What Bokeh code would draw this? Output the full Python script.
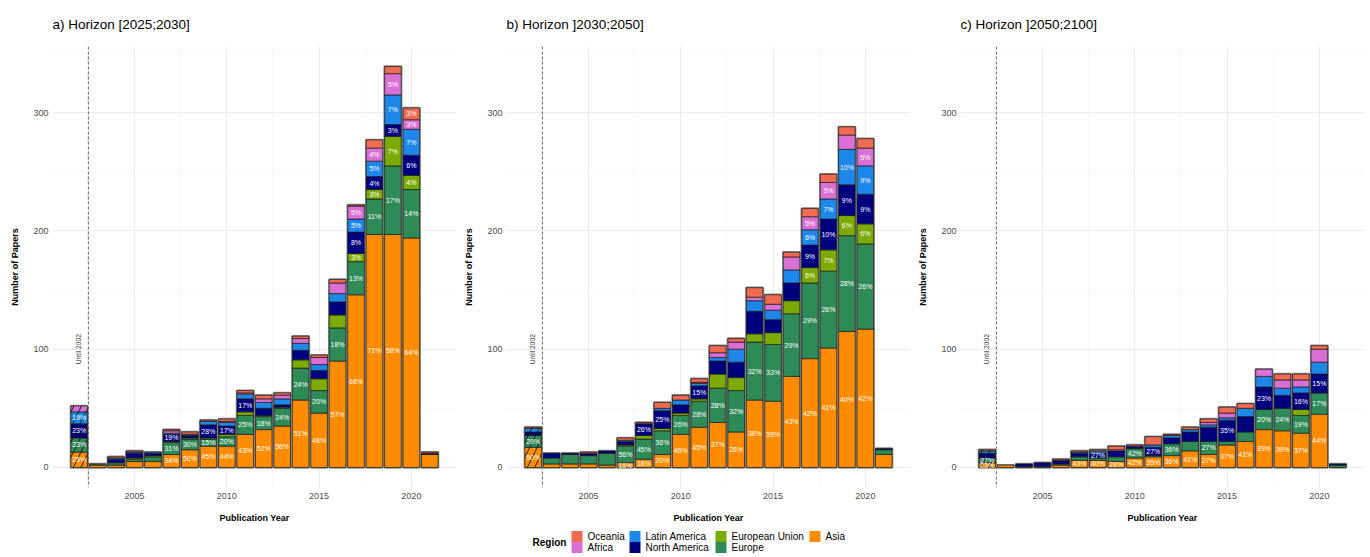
import math
from bokeh.plotting import figure
from bokeh.models import Range1d, FixedTicker, Span, ColumnDataSource, Spacer
from bokeh.layouts import row, column
from bokeh.embed import file_html
from bokeh.resources import INLINE
from bokeh.core.properties import value

# ---------------- data ----------------
YEARS = list(range(2002, 2022))
REGIONS = ["Asia", "Europe", "European Union", "North America",
           "Latin America", "Africa", "Oceania"]
COLORS = {"Asia": "#FF8C00", "Europe": "#2E8B57", "European Union": "#7BAA00",
          "North America": "#00007F", "Latin America": "#1E88EA",
          "Africa": "#DA70D6", "Oceania": "#EE6A50"}
TITLES = ["a) Horizon [2025;2030]", "b) Horizon ]2030;2050]", "c) Horizon ]2050;2100]"]

PANEL_A = {
    "Asia":           [13, 2, 2, 5, 5, 11, 15, 18, 18, 28, 32, 35, 57, 46, 90, 146, 197, 197, 194, 11],
    "Europe":         [12, 1, 2, 2, 4, 10, 9, 6, 8, 16, 11, 15, 27, 19, 28, 28, 30, 58, 41, 0],
    "European Union": [0, 0, 0, 1, 1, 1, 1, 1, 2, 3, 1, 1, 7, 10, 11, 7, 8, 25, 12, 0],
    "North America":  [12, 0, 3, 4, 2, 6, 2, 11, 7, 11, 6, 2, 8, 7, 11, 18, 11, 10, 17, 1],
    "Latin America":  [10, 0, 1, 1, 1, 1, 1, 3, 3, 4, 5, 5, 6, 5, 7, 11, 13, 25, 22, 0],
    "Africa":         [5, 0, 0, 0, 0, 2, 0, 0, 1, 1, 3, 3, 4, 6, 9, 11, 11, 18, 8, 0],
    "Oceania":        [0, 0, 1, 1, 0, 1, 2, 1, 2, 2, 3, 2, 2, 2, 3, 1, 7, 6, 10, 1],
}
PANEL_B = {
    "Asia":           [17, 3, 3, 3, 2, 4, 7, 11, 28, 34, 38, 30, 57, 56, 77, 92, 101, 115, 117, 11],
    "Europe":         [10, 5, 8, 7, 10, 14, 17, 20, 16, 22, 29, 35, 49, 48, 53, 64, 65, 81, 72, 4],
    "European Union": [0, 0, 0, 0, 0, 1, 3, 2, 2, 2, 12, 11, 7, 10, 11, 13, 18, 17, 17, 0],
    "North America":  [3, 4, 1, 2, 2, 3, 10, 15, 7, 11, 11, 13, 19, 11, 15, 19, 26, 26, 25, 1],
    "Latin America":  [3, 0, 0, 0, 0, 1, 0, 2, 4, 2, 3, 11, 9, 8, 11, 13, 17, 30, 24, 0],
    "Africa":         [0, 0, 0, 0, 0, 0, 0, 0, 0, 1, 4, 6, 3, 5, 11, 11, 14, 12, 15, 0],
    "Oceania":        [1, 0, 0, 1, 0, 2, 1, 5, 4, 3, 6, 3, 8, 8, 4, 7, 7, 7, 8, 0],
}
PANEL_C = {
    "Asia":           [4, 2, 0, 0, 2, 6, 6, 5, 8, 9, 10, 14, 11, 19, 22, 32, 31, 29, 45, 0],
    "Europe":         [4, 0, 1, 1, 1, 3, 2, 4, 8, 1, 10, 8, 11, 3, 8, 17, 19, 15, 18, 2],
    "European Union": [0, 0, 0, 0, 0, 0, 0, 0, 0, 0, 0, 0, 0, 0, 0, 0, 0, 5, 0, 0],
    "North America":  [4, 0, 2, 3, 3, 3, 4, 5, 2, 7, 5, 8, 12, 18, 13, 19, 11, 14, 16, 1],
    "Latin America":  [2, 0, 0, 0, 0, 1, 2, 0, 0, 2, 2, 2, 2, 2, 7, 9, 6, 5, 10, 0],
    "Africa":         [0, 0, 0, 0, 0, 0, 0, 1, 0, 0, 0, 0, 2, 4, 0, 6, 7, 6, 11, 0],
    "Oceania":        [1, 0, 0, 0, 1, 1, 1, 3, 1, 7, 1, 2, 3, 5, 4, 0, 5, 5, 3, 0],
}

LABELS_A = [
    (2002, "Asia", "25%"), (2002, "Europe", "23%"), (2002, "North America", "23%"), (2002, "Latin America", "19%"),
    (2007, "Asia", "34%"), (2007, "Europe", "31%"), (2007, "North America", "19%"),
    (2008, "Asia", "50%"), (2008, "Europe", "30%"),
    (2009, "Asia", "45%"), (2009, "Europe", "15%"), (2009, "North America", "28%"),
    (2010, "Asia", "44%"), (2010, "Europe", "20%"), (2010, "North America", "17%"),
    (2011, "Asia", "43%"), (2011, "Europe", "25%"), (2011, "North America", "17%"),
    (2012, "Asia", "52%"), (2012, "Europe", "18%"),
    (2013, "Asia", "56%"), (2013, "Europe", "24%"),
    (2014, "Asia", "51%"), (2014, "Europe", "24%"),
    (2015, "Asia", "48%"), (2015, "Europe", "20%"),
    (2016, "Asia", "57%"), (2016, "Europe", "18%"),
    (2017, "Asia", "66%"), (2017, "Europe", "13%"), (2017, "European Union", "3%"),
    (2017, "North America", "8%"), (2017, "Latin America", "5%"), (2017, "Africa", "5%"),
    (2018, "Asia", "71%"), (2018, "Europe", "11%"), (2018, "European Union", "3%"),
    (2018, "North America", "4%"), (2018, "Latin America", "5%"), (2018, "Africa", "4%"),
    (2019, "Asia", "58%"), (2019, "Europe", "17%"), (2019, "European Union", "7%"),
    (2019, "North America", "3%"), (2019, "Latin America", "7%"), (2019, "Africa", "5%"),
    (2020, "Asia", "64%"), (2020, "Europe", "14%"), (2020, "European Union", "4%"),
    (2020, "North America", "6%"), (2020, "Latin America", "7%"), (2020, "Africa", "3%"), (2020, "Oceania", "3%"),
]
LABELS_B = [
    (2002, "Asia", "50%"), (2002, "Europe", "29%"),
    (2007, "Asia", "16%"), (2007, "Europe", "56%"),
    (2008, "Asia", "18%"), (2008, "Europe", "45%"), (2008, "North America", "26%"),
    (2009, "Asia", "20%"), (2009, "Europe", "36%"), (2009, "North America", "25%"),
    (2010, "Asia", "46%"), (2010, "Europe", "26%"),
    (2011, "Asia", "45%"), (2011, "Europe", "28%"), (2011, "North America", "15%"),
    (2012, "Asia", "37%"), (2012, "Europe", "28%"),
    (2013, "Asia", "28%"), (2013, "Europe", "32%"),
    (2014, "Asia", "38%"), (2014, "Europe", "32%"),
    (2015, "Asia", "39%"), (2015, "Europe", "33%"),
    (2016, "Asia", "43%"), (2016, "Europe", "29%"),
    (2017, "Asia", "42%"), (2017, "Europe", "29%"), (2017, "European Union", "6%"),
    (2017, "North America", "9%"), (2017, "Latin America", "6%"), (2017, "Africa", "5%"),
    (2018, "Asia", "41%"), (2018, "Europe", "26%"), (2018, "European Union", "7%"),
    (2018, "North America", "10%"), (2018, "Latin America", "7%"), (2018, "Africa", "5%"),
    (2019, "Asia", "40%"), (2019, "Europe", "28%"), (2019, "European Union", "6%"),
    (2019, "North America", "9%"), (2019, "Latin America", "10%"),
    (2020, "Asia", "42%"), (2020, "Europe", "26%"), (2020, "European Union", "6%"),
    (2020, "North America", "9%"), (2020, "Latin America", "9%"), (2020, "Africa", "5%"),
]
LABELS_C = [
    (2002, "Asia", "23%"), (2002, "Europe", "27%"),
    (2007, "Asia", "43%"),
    (2008, "Asia", "40%"), (2008, "North America", "27%"),
    (2009, "Asia", "28%"),
    (2010, "Asia", "42%"), (2010, "Europe", "42%"),
    (2011, "Asia", "35%"), (2011, "North America", "27%"),
    (2012, "Asia", "36%"), (2012, "Europe", "36%"),
    (2013, "Asia", "41%"),
    (2014, "Asia", "27%"), (2014, "Europe", "27%"),
    (2015, "Asia", "37%"), (2015, "North America", "35%"),
    (2016, "Asia", "41%"),
    (2017, "Asia", "39%"), (2017, "Europe", "20%"), (2017, "North America", "23%"),
    (2018, "Asia", "39%"), (2018, "Europe", "24%"),
    (2019, "Asia", "37%"), (2019, "Europe", "19%"), (2019, "North America", "16%"),
    (2020, "Asia", "44%"), (2020, "Europe", "17%"), (2020, "North America", "15%"),
]

Y_TICKS = [0, 100, 200, 300]
Y_MINOR = [50, 150, 250, 350]
X_TICKS = [2005, 2010, 2015, 2020]
X_MINOR = [2002.5, 2007.5, 2012.5, 2017.5]
CUTOFF = 2002.5

# ---------------- style ----------------
FONT = "Liberation Sans"
BAR_W = 0.9
FRAME_W = 404
FRAME_H = 441
BORDER_L = 50

ymax = max(sum(d[r][i] for r in REGIONS) for d in (PANEL_A, PANEL_B, PANEL_C) for i in range(len(YEARS)))
pad = 0.05 * ymax
Y_RANGE = Range1d(-pad, ymax + pad)
xspan = (YEARS[-1] + BAR_W / 2) - (YEARS[0] - BAR_W / 2)


def make_panel(title, data, labels):
    x_range = Range1d(YEARS[0] - BAR_W / 2 - 0.05 * xspan, YEARS[-1] + BAR_W / 2 + 0.05 * xspan)
    p = figure(frame_width=FRAME_W, frame_height=FRAME_H, x_range=x_range, y_range=Y_RANGE,
               output_backend="svg", toolbar_location=None,
               min_border_left=BORDER_L, min_border_right=0,
               min_border_top=46, min_border_bottom=30)
    p.outline_line_color = None
    p.background_fill_color = "white"
    p.border_fill_color = "white"

    # title
    p.title.text = title
    p.title.text_font = FONT
    p.title.text_font_size = "13.5px"
    p.title.text_font_style = "normal"
    p.title.text_color = "black"
    p.title.offset = 0
    p.title.standoff = 29

    # axes
    xt = FixedTicker(ticks=X_TICKS, minor_ticks=X_MINOR)
    yt = FixedTicker(ticks=Y_TICKS, minor_ticks=Y_MINOR)
    p.xaxis.ticker = xt
    p.yaxis.ticker = yt
    p.xgrid.ticker = xt
    p.ygrid.ticker = yt
    for ax in (p.xaxis[0], p.yaxis[0]):
        ax.axis_line_color = None
        ax.major_tick_line_color = None
        ax.minor_tick_line_color = None
        ax.major_tick_out = 0
        ax.major_tick_in = 0
        ax.major_label_text_font = FONT
        ax.major_label_text_font_size = "9px"
        ax.major_label_text_color = "#4D4D4D"
        ax.axis_label_text_font = FONT
        ax.axis_label_text_font_size = "9px"
        ax.axis_label_text_font_style = "bold"
        ax.axis_label_text_color = "black"
    p.xaxis.major_label_standoff = 1
    p.yaxis.major_label_standoff = 0
    p.xaxis.axis_label = "Publication Year"
    p.yaxis.axis_label = "Number of Papers"
    p.xaxis.axis_label_standoff = 11
    p.yaxis.axis_label_standoff = 10

    for g in (p.xgrid[0], p.ygrid[0]):
        g.grid_line_color = "#EBEBEB"
        g.grid_line_width = 1
        g.minor_grid_line_color = "#F3F3F3"
        g.minor_grid_line_width = 0.7

    # stacked segments
    xs, bots, tops, cols = [], [], [], []
    mids = {}
    totals = []
    for i, yr in enumerate(YEARS):
        base = 0
        for r in REGIONS:
            v = data[r][i]
            if v > 0:
                xs.append(yr); bots.append(base); tops.append(base + v); cols.append(COLORS[r])
            mids[(yr, r)] = base + v / 2
            base += v
        totals.append(base)

    p.vbar(x=YEARS, top=totals, bottom=0, width=BAR_W, fill_color=None,
           line_color="#8C8C8C", line_width=2.4)
    seg = ColumnDataSource(dict(x=xs, bottom=bots, top=tops, color=cols))
    p.vbar(x="x", bottom="bottom", top="top", width=BAR_W, source=seg,
           fill_color="color", line_color="#1A1A1A", line_width=0.7)
    # hatch for the aggregated "until 2002" bar
    p.vbar(x=[YEARS[0]], top=[totals[0]], bottom=0, width=BAR_W, fill_color=None,
           line_color=None, hatch_pattern="/", hatch_color="#1A1A1A",
           hatch_scale=15, hatch_weight=1)

    lab = ColumnDataSource(dict(x=[l[0] for l in labels],
                                y=[mids[(l[0], l[1])] for l in labels],
                                text=[l[2] for l in labels]))
    p.text(x="x", y="y", text="text", source=lab, text_color="white",
           text_font=value(FONT), text_font_size="7px",
           text_align="center", text_baseline="middle")

    p.add_layout(Span(location=CUTOFF, dimension="height", line_color="#707070",
                      line_dash="3 2", line_width=1.1))
    p.text(x=[YEARS[0] - 0.05], y=[ymax * 0.295], text=["Until 2002"], angle=math.pi / 2,
           text_font=value(FONT), text_font_size="6.7px", text_color="#333333",
           text_align="center", text_baseline="middle")
    return p


pa = make_panel(TITLES[0], PANEL_A, LABELS_A)
pb = make_panel(TITLES[1], PANEL_B, LABELS_B)
pc = make_panel(TITLES[2], PANEL_C, LABELS_C)

# ---------------- legend ----------------
LEG_W, LEG_H = 1364, 31
LEG_COLS = [["Oceania", "Africa"], ["Latin America", "North America"],
            ["European Union", "Europe"], ["Asia"]]
COL_X = [571, 629, 715, 809]
ROW_Y = [11, 22]
leg = figure(width=LEG_W, height=LEG_H, x_range=Range1d(0, LEG_W), y_range=Range1d(LEG_H, 0),
             output_backend="svg", toolbar_location=None, min_border=0,
             x_axis_location=None, y_axis_location=None)
leg.outline_line_color = None
leg.xgrid.visible = False
leg.ygrid.visible = False
sx, sy, sc, tx, ty, tt = [], [], [], [], [], []
for ci, names in enumerate(LEG_COLS):
    for ri, name in enumerate(names):
        sx.append(COL_X[ci] + 5.5); sy.append(ROW_Y[ri]); sc.append(COLORS[name])
        tx.append(COL_X[ci] + 16); ty.append(ROW_Y[ri]); tt.append(name)
leg.rect(x=sx, y=sy, width=11, height=11, fill_color=sc, line_color=None)
leg.text(x=tx, y=ty, text=tt, text_font=value(FONT), text_font_size="10px",
         text_color="black", text_align="left", text_baseline="middle")
leg.text(x=[532], y=[(ROW_Y[0] + ROW_Y[1]) / 2], text=["Region"], text_font=value(FONT),
         text_font_size="10px", text_font_style="bold", text_color="black",
         text_align="left", text_baseline="middle")

layout = column(row(Spacer(width=2), pa, pb, pc), leg)
open("out.html", "w").write(file_html(layout, INLINE))
